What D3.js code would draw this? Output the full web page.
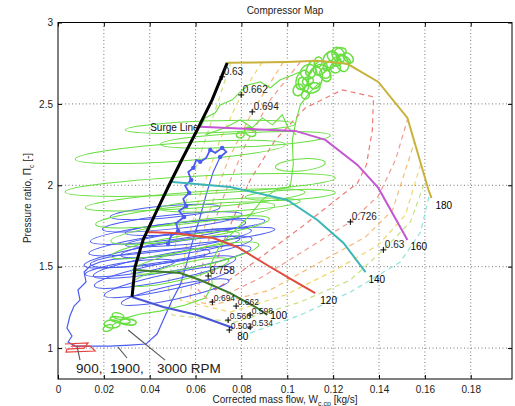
<!DOCTYPE html>
<html><head><meta charset="utf-8">
<script src="https://cdn.jsdelivr.net/npm/d3@7"></script>
<style>body{margin:0;background:#fff} text{font-family:"Liberation Sans",Arial,Helvetica,sans-serif}</style>
</head><body><svg id="c" width="515" height="406"></svg>
<script>
// ---------- axis ticks ----------
const xTicks = [0,0.02,0.04,0.06,0.08,0.1,0.12,0.14,0.16,0.18];
const xTickLabels = ['0','0.02','0.04','0.06','0.08','0.1','0.12','0.14','0.16','0.18'];
const yTicks = [1,1.5,2,2.5,3];
const yTickLabels = ['1','1.5','2','2.5','3'];

// ---------- surge line ----------
const surgeFlow = [0.0323,0.0336,0.0371,0.0432,0.0489,0.0546,0.0607,0.0672,0.0738];
const surgePR   = [1.314,1.498,1.664,1.848,2.014,2.174,2.340,2.525,2.752];

// ---------- speed lines (krpm) ----------
const speedNames = ['80','100','120','140','160','180'];
const speed80Flow  = [0.0323,0.0459,0.0607,0.0764];
const speed80PR    = [1.314,1.252,1.203,1.123];
const speed100Flow = [0.0336,0.0533,0.0620,0.0751,0.0869,0.0913];
const speed100PR   = [1.480,1.461,1.418,1.338,1.246,1.203];
const speed120Flow = [0.0389,0.0502,0.0677,0.0782,0.0926,0.1044,0.1122];
const speed120PR   = [1.713,1.707,1.676,1.621,1.498,1.400,1.338];
const speed140Flow = [0.0489,0.0751,0.1000,0.1131,0.1245,0.1341];
const speed140PR   = [2.021,1.990,1.910,1.787,1.646,1.467];
const speed160Flow = [0.0620,0.1035,0.1166,0.1306,0.1397,0.1524];
const speed160PR   = [2.359,2.334,2.279,2.125,1.984,1.664];
const speed180Flow = [0.0738,0.1000,0.1131,0.1262,0.1397,0.1524,0.1616,0.1629];
const speed180PR   = [2.752,2.758,2.765,2.746,2.635,2.414,1.971,1.922];
const speedLabelFlow = [0.0782,0.0926,0.1144,0.1354,0.1537,0.1646];
const speedLabelPR   = [1.074,1.203,1.295,1.424,1.621,1.873];

// ---------- efficiency contours ----------
const effLevels = ['0.758','0.726','0.694','0.662','0.63','0.598'];
const eff758Flow = [0.0655,0.0742,0.0838,0.0948,0.1079,0.1240,0.1376,0.1371,0.1345,0.1306,0.1057,0.0838,0.0686,0.0655];
const eff758PR   = [1.400,1.725,2.033,2.279,2.476,2.586,2.543,2.340,2.125,2.014,1.738,1.510,1.357,1.400];
const eff726Flow = [0.1057,0.0926,0.0817,0.0716,0.0642,0.0611,0.0664,0.0882,0.1100,0.1275,0.1397,0.1472,0.1524];
const eff726PR   = [2.758,2.525,2.248,1.910,1.603,1.357,1.283,1.430,1.621,1.775,1.934,2.156,2.402];
const eff694Flow = [0.0983,0.0847,0.0742,0.0655,0.0590,0.0576,0.0673,0.0926,0.1144,0.1341,0.1459,0.1555];
const eff694PR   = [2.758,2.451,2.156,1.818,1.510,1.295,1.264,1.357,1.529,1.682,1.848,2.267];
const eff662Flow = [0.0891,0.0799,0.0707,0.0620,0.0555,0.0533,0.0751,0.0991,0.1210,0.1397,0.1515,0.1581];
const eff662PR   = [2.758,2.555,2.279,1.941,1.603,1.295,1.221,1.326,1.480,1.633,1.818,2.125];
const eff630Flow = [0.0755,0.0686,0.0598,0.0524,0.0480,0.0498,0.0773,0.1057,0.1275,0.1419,0.1537,0.1603];
const eff630PR   = [2.758,2.463,2.094,1.725,1.387,1.203,1.160,1.283,1.418,1.603,1.775,2.033];
const eff598Flow = [0.0838,0.1057,0.1275,0.1493,0.1581,0.1620];
const eff598PR   = [1.092,1.203,1.344,1.529,1.713,1.941];

// efficiency point labels
const effText = ['0.63','0.662','0.694','0.726','0.63','0.758','0.694','0.662','0.598','0.566','0.534','0.502'];
const effFlow = [0.0716,0.0799,0.0847,0.1275,0.1419,0.0655,0.0673,0.0777,0.0838,0.0742,0.0838,0.0747];
const effPR   = [2.666,2.555,2.451,1.775,1.603,1.443,1.283,1.258,1.203,1.172,1.129,1.111];

// ---------- measured trajectories ----------
// 900 rpm
const red900Flow = [0.0031,0.0131,0.0114,0.0039,0.0035,0.0162,0.0140,0.0061,0.0079];
const red900PR   = [1.025,1.031,1.000,0.994,0.975,0.982,1.012,1.012,1.031];
// 1900 rpm
const blueClimbFlow = [0.0131,0.0074,0.0044,0.0061,0.0039,0.0052,0.0070,0.0096,0.0087,0.0122,0.0114,0.0140,0.0183,0.0249,0.0314];
const blueClimbPR   = [1.012,1.012,1.037,1.074,1.123,1.197,1.258,1.295,1.357,1.406,1.467,1.504,1.529,1.547,1.553];
const blueRiseFlow = [0.0131,0.0227,0.0314,0.0384,0.0402,0.0432,0.0463,0.0498,0.0533,0.0559,0.0585,0.0616,0.0646,0.0677,0.0707];
const blueRisePR   = [1.012,1.012,1.018,1.025,1.049,1.086,1.184,1.295,1.387,1.510,1.646,1.787,1.941,2.082,2.174];
const blueClusterFlow = [0.0707,0.0734,0.0716,0.0686,0.0664,0.0646,0.0620,0.0603,0.0590,0.0568,0.0581,0.0555,0.0572,0.0546,0.0559,0.0528,0.0550,0.0515,0.0524,0.0493,0.0480];
const blueClusterPR   = [2.174,2.205,2.230,2.199,2.217,2.168,2.144,2.156,2.107,2.082,2.033,1.996,1.953,1.916,1.873,1.842,1.805,1.768,1.719,1.689,1.639];
const blueLoopFlow = [0.0467,0.0498,0.0480,0.0489,0.0480,0.0498,0.0467,0.0480,0.0511,0.0533,0.0402,0.0620,0.0598,0.0314];
const blueLoopPR   = [1.836,1.775,1.713,1.652,1.590,1.529,1.467,1.406,1.344,1.621,1.553,1.682,1.744,1.492];
const blueLoopRx   = [0.0240,0.0306,0.0341,0.0358,0.0371,0.0349,0.0314,0.0284,0.0240,0.0262,0.0262,0.0328,0.0306,0.0197];
const blueLoopRy   = [0.0369,0.0430,0.0492,0.0492,0.0553,0.0553,0.0553,0.0492,0.0430,0.0430,0.0430,0.0369,0.0369,0.0369];
const blueLoopTilt = [-5,-6,-7,-8,-9,-10,-11,-12,-12,-8,-6,-6,-5,-8];
// 3000 rpm
const greenRiseFlow = [0.0236,0.0293,0.0358,0.0445,0.0555,0.0642,0.0673,0.0664,0.0707,0.0773,0.0838,0.0891,0.0948,0.1013,0.1026,0.1022,0.1039,0.1057,0.1100,0.1144];
const greenRisePR   = [1.141,1.184,1.209,1.227,1.264,1.307,1.387,1.510,1.633,1.725,1.818,1.910,1.971,1.990,2.125,2.279,2.402,2.494,2.574,2.635];
const greenLeftFlow = [0.0620,0.0642,0.0686,0.0707,0.0760,0.0795,0.0830,0.0882,0.0926,0.0969,0.1013,0.1057];
const greenLeftPR   = [2.353,2.414,2.445,2.494,2.525,2.574,2.617,2.635,2.599,2.648,2.672,2.697];
const greenMidFlow = [0.0642,0.0729,0.0795,0.0847,0.0891,0.0935,0.0978,0.1004,0.1039];
const greenMidPR   = [2.310,2.353,2.402,2.353,2.414,2.371,2.433,2.353,2.310];
const greenLoopFlow = [0.0533,0.0664,0.0620,0.0598,0.0555,0.0576,0.0511,0.0598,0.0533,0.1057,0.0817,0.1013,0.0751];
const greenLoopPR   = [2.205,2.359,2.002,1.910,1.818,1.725,1.633,1.553,1.467,2.125,2.279,1.941,1.879];
const greenLoopRx   = [0.0459,0.0371,0.0590,0.0480,0.0393,0.0349,0.0284,0.0284,0.0218,0.0109,0.0371,0.0197,0.0306];
const greenLoopRy   = [0.0553,0.0369,0.0553,0.0492,0.0553,0.0553,0.0492,0.0553,0.0492,0.0369,0.0430,0.0307,0.0369];
const greenLoopTilt = [-4,-2,-3,-4,-6,-8,-10,-12,-14,-5,-3,-3,-3];
// small oscillation knots (bottom start, mid and top operating points)
const greenKnotFlow = [0.0236,0.0271,0.0218,0.0306,0.0262, 0.0838,0.0795,
  0.1066,0.1092,0.1122,0.1144,0.1109,0.1048,0.1166,0.1188,0.1223,0.1240,0.1210,0.1266,0.1135,0.1079,0.1100,0.1231,0.1179,0.1070,0.1200,0.1250,0.1090,0.1155,0.1215];
const greenKnotPR   = [1.148,1.172,1.123,1.160,1.197, 2.328,2.310,
  2.648,2.697,2.660,2.721,2.598,2.586,2.678,2.771,2.801,2.752,2.721,2.783,2.758,2.555,2.721,2.820,2.734,2.620,2.790,2.770,2.640,2.700,2.760];
const greenKnotRx   = [0.0035,0.0044,0.0022,0.0035,0.0026, 0.0026,0.0017,
  0.0026,0.0035,0.0031,0.0026,0.0035,0.0022,0.0022,0.0031,0.0035,0.0026,0.0022,0.0017,0.0017,0.0017,0.0013,0.0026,0.0017,0.0020,0.0028,0.0015,0.0018,0.0024,0.0020];
const greenKnotRy   = [0.0246,0.0184,0.0184,0.0184,0.0184, 0.0246,0.0184,
  0.0615,0.0430,0.0676,0.0492,0.0307,0.0369,0.0430,0.0492,0.0369,0.0553,0.0307,0.0369,0.0307,0.0246,0.0492,0.0246,0.0369,0.0450,0.0300,0.0400,0.0350,0.0520,0.0280];
const greenKnotTilt = [0,10,-20,5,15, 30,-10,
  20,-35,10,40,-15,25,-30,15,60,-20,35,-45,10,0,25,-10,50,-25,40,-60,70,-50,30];

// RPM annotation
const rpmText = ['900,','1900,','3000 RPM'];
const rpmTextFlow = [0.0079,0.0227,0.0432];
const rpmTextPR = 0.846;
const rpmPtrFromFlow = [0.0096,0.0301,0.0467];
const rpmPtrFromPR   = [0.926,0.939,0.926];
const rpmPtrToFlow   = [0.0083,0.0262,0.0306];
const rpmPtrToPR     = [1.012,1.006,1.111];
const surgeLabel = {text:'Surge Line', flow:0.0402, pr:2.334};

// ---------- drawing ----------
const svg = d3.select('#c');
svg.append('rect').attr('width',515).attr('height',406).attr('fill','#fff');
const L=58, R=512, T=22.5, B=379;
const x = d3.scaleLinear().domain([0,0.198]).range([L,R]);
const y = d3.scaleLinear().domain([0.81,3]).range([B,T]);
const line = d3.line().x(d=>x(d[0])).y(d=>y(d[1]));

svg.append('defs').append('clipPath').attr('id','clip')
  .append('rect').attr('x',L).attr('y',T).attr('width',R-L).attr('height',B-T);

// grid
const grid = svg.append('g').attr('stroke','#555').attr('stroke-width',0.8).attr('stroke-dasharray','1,2.5');
grid.selectAll('.gx').data(xTicks.slice(1)).join('line')
  .attr('x1',d=>x(d)).attr('x2',d=>x(d)).attr('y1',T).attr('y2',B);
grid.selectAll('.gy').data(yTicks.slice(0,-1)).join('line')
  .attr('y1',d=>y(d)).attr('y2',d=>y(d)).attr('x1',L).attr('x2',R);

const plot = svg.append('g').attr('clip-path','url(#clip)');

// efficiency contours (dashed)
const effSeries = [
  [eff598Flow,eff598PR,'#8fe2de'],
  [eff630Flow,eff630PR,'#c6e383'],
  [eff662Flow,eff662PR,'#f0d76a'],
  [eff694Flow,eff694PR,'#f6bb78'],
  [eff726Flow,eff726PR,'#f39a90'],
  [eff758Flow,eff758PR,'#ee7c74']];
effSeries.forEach(s=>{
  plot.append('path').attr('d',line(d3.zip(s[0],s[1]))).attr('fill','none')
    .attr('stroke',s[2]).attr('stroke-width',1.2).attr('stroke-dasharray','5,4');
});

// ellipse loops helper
function loops(g, fl, pr, rx, ry, tilt, color, sw){
  g.selectAll(null).data(d3.range(fl.length)).join('ellipse')
    .attr('cx',i=>x(fl[i])).attr('cy',i=>y(pr[i]))
    .attr('rx',i=>x(fl[i]+rx[i])-x(fl[i])).attr('ry',i=>y(pr[i])-y(pr[i]+ry[i]))
    .attr('transform',i=>`rotate(${tilt[i]},${x(fl[i])},${y(pr[i])})`)
    .attr('fill','none').attr('stroke',color).attr('stroke-width',sw);
}

const BLUE='#4b5cf0', GREEN='#68de40';
// 1900 rpm (blue)
const gb = plot.append('g');
loops(gb, blueLoopFlow, blueLoopPR, blueLoopRx, blueLoopRy, blueLoopTilt, BLUE, 1);
[[blueClimbFlow,blueClimbPR],[blueRiseFlow,blueRisePR]].forEach(s=>{
  gb.append('path').attr('d',line(d3.zip(s[0],s[1]))).attr('fill','none').attr('stroke',BLUE).attr('stroke-width',1.2);
});

// 3000 rpm (green)
const gg = plot.append('g');
loops(gg, greenLoopFlow, greenLoopPR, greenLoopRx, greenLoopRy, greenLoopTilt, GREEN, 1);
[[greenRiseFlow,greenRisePR],[greenLeftFlow,greenLeftPR],[greenMidFlow,greenMidPR]].forEach(s=>{
  gg.append('path').attr('d',line(d3.zip(s[0],s[1]))).attr('fill','none').attr('stroke',GREEN).attr('stroke-width',1.1);
});
loops(gg, greenKnotFlow, greenKnotPR, greenKnotRx, greenKnotRy, greenKnotTilt, GREEN, 1.5);

// blue cluster on top of green
const clusterPts = d3.zip(blueClusterFlow, blueClusterPR);
const gc = plot.append('g');
gc.append('path').attr('d',line(clusterPts)).attr('fill','none').attr('stroke',BLUE).attr('stroke-width',1.8);
gc.selectAll('circle').data(clusterPts.filter((d,i)=>i%2===0)).join('circle')
  .attr('cx',d=>x(d[0])).attr('cy',d=>y(d[1])).attr('r',2.2).attr('fill',BLUE);

// 900 rpm (red)
plot.append('path').attr('d',line(d3.zip(red900Flow,red900PR))).attr('fill','none')
  .attr('stroke','#e8423c').attr('stroke-width',1.2);

// speed lines
const speedSeries = [
  [speed80Flow,speed80PR,'#4a56d6'],
  [speed100Flow,speed100PR,'#3c7a2c'],
  [speed120Flow,speed120PR,'#e24a3c'],
  [speed140Flow,speed140PR,'#3cb6b6'],
  [speed160Flow,speed160PR,'#c457d2'],
  [speed180Flow,speed180PR,'#c9b23c']];
speedSeries.forEach(s=>{
  plot.append('path').attr('d',line(d3.zip(s[0],s[1]))).attr('fill','none')
    .attr('stroke',s[2]).attr('stroke-width',2);
});

// surge line
plot.append('path').attr('d',line(d3.zip(surgeFlow,surgePR))).attr('fill','none')
  .attr('stroke','#000').attr('stroke-width',3).attr('stroke-linejoin','round');

// speed labels
svg.append('g').selectAll('text').data(speedNames).join('text')
  .attr('x',(d,i)=>x(speedLabelFlow[i])).attr('y',(d,i)=>y(speedLabelPR[i]))
  .attr('dy','0.35em').attr('font-size',10).attr('fill','#000').text(d=>d);

// efficiency labels with + markers
const eg = svg.append('g');
effText.forEach((t,i)=>{
  const cx=x(effFlow[i]), cy=y(effPR[i]);
  const fs = i>=6 ? 8.5 : 10;
  eg.append('path').attr('d',`M${cx-3},${cy}H${cx+3}M${cx},${cy-3}V${cy+3}`).attr('stroke','#000').attr('stroke-width',1);
  eg.append('text').attr('x',cx+1.5).attr('y',cy-1.5).attr('font-size',fs).attr('fill','#222').text(t);
});

// surge label
svg.append('text').attr('x',x(surgeLabel.flow)).attr('y',y(surgeLabel.pr)).attr('font-size',10).attr('fill','#111').text(surgeLabel.text);

// RPM annotation
rpmPtrFromFlow.forEach((f,i)=>{
  svg.append('line').attr('x1',x(f)).attr('y1',y(rpmPtrFromPR[i])).attr('x2',x(rpmPtrToFlow[i])).attr('y2',y(rpmPtrToPR[i]))
    .attr('stroke','#555').attr('stroke-width',1.1);
});
svg.append('g').selectAll('text').data(rpmText).join('text')
  .attr('x',(d,i)=>x(rpmTextFlow[i])).attr('y',y(rpmTextPR)).attr('font-size',13.5).attr('fill','#222').text(d=>d);

// axes (ticks inward, MATLAB style)
const ax = svg.append('g').attr('font-size',10);
ax.append('g').attr('transform',`translate(0,${B})`)
  .call(d3.axisBottom(x).tickValues(xTicks).tickFormat((d,i)=>xTickLabels[i]).tickSizeInner(-4).tickSizeOuter(0).tickPadding(7));
ax.append('g').attr('transform',`translate(0,${T})`)
  .call(d3.axisTop(x).tickValues(xTicks).tickFormat('').tickSizeInner(-4).tickSizeOuter(0));
ax.append('g').attr('transform',`translate(${L},0)`)
  .call(d3.axisLeft(y).tickValues(yTicks).tickFormat((d,i)=>yTickLabels[i]).tickSizeInner(-4).tickSizeOuter(0).tickPadding(5));
ax.append('g').attr('transform',`translate(${R},0)`)
  .call(d3.axisRight(y).tickValues(yTicks).tickFormat('').tickSizeInner(-4).tickSizeOuter(0));
ax.selectAll('.domain').remove();
ax.selectAll('text').attr('font-family','"Liberation Sans",Arial,sans-serif').attr('fill','#222');
svg.append('rect').attr('x',L).attr('y',T).attr('width',R-L).attr('height',B-T)
  .attr('fill','none').attr('stroke','#000').attr('stroke-width',1);

// titles
svg.append('text').attr('x',(L+R)/2).attr('y',14).attr('text-anchor','middle').attr('font-size',10).attr('fill','#222').text('Compressor Map');
const xl = svg.append('text').attr('x',(L+R)/2).attr('y',403).attr('text-anchor','middle').attr('font-size',10).attr('fill','#222');
xl.append('tspan').text('Corrected mass flow, W');
xl.append('tspan').attr('font-size',7).attr('dy',3).text('c,cp');
xl.append('tspan').attr('dy',-3).text(' [kg/s]');
const ylab = svg.append('text').attr('transform','translate(31,198) rotate(-90)').attr('text-anchor','middle').attr('font-size',10).attr('fill','#222');
ylab.append('tspan').text('Pressure ratio, \u03A0');
ylab.append('tspan').attr('font-size',7).attr('dy',3).text('c');
ylab.append('tspan').attr('dy',-3).text(' [-]');
</script></body></html>
